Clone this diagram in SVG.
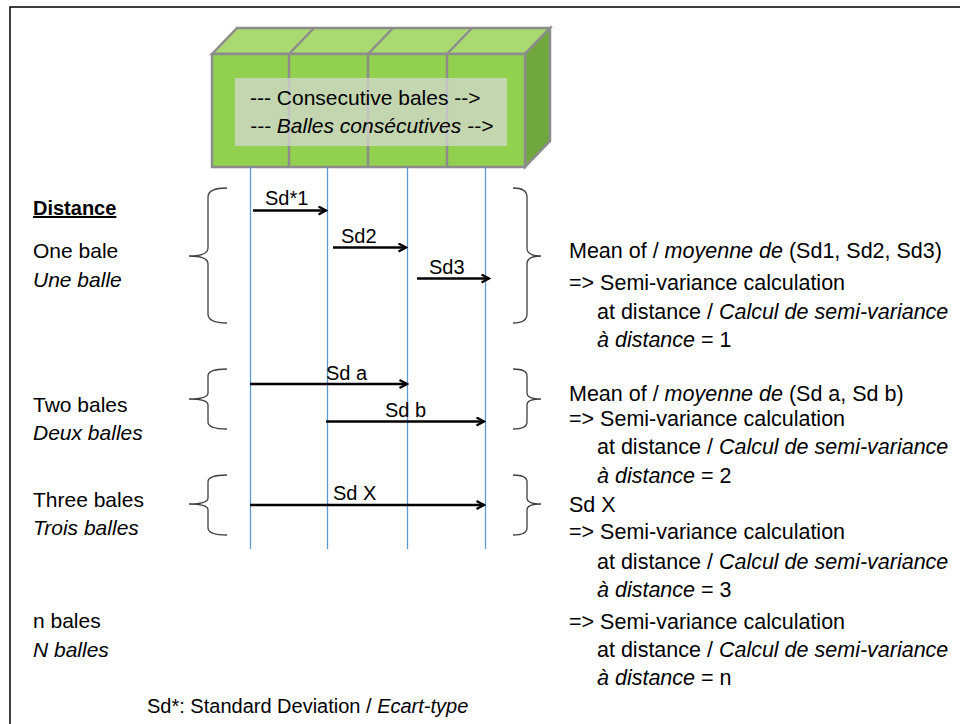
<svg xmlns="http://www.w3.org/2000/svg" width="960" height="724" viewBox="0 0 960 724">
<defs>
<style>
text{font-family:"Liberation Sans",Arial,sans-serif;fill:#000}
.t{font-size:21px}
.r{font-size:21.5px}
.s{font-size:20px}
.i{font-style:italic}
.vl{stroke:#5B9BD5;stroke-width:1.3}
.ar{stroke:#000;stroke-width:2.5;fill:none;marker-end:url(#ah)}
.br{stroke:#404040;stroke-width:1.3;fill:none}
.cube{stroke:#8C8C8C;stroke-width:2.5;stroke-linejoin:miter}
</style>
<marker id="ah" viewBox="0 0 10 10" refX="8.5" refY="5" markerWidth="10" markerHeight="10" markerUnits="userSpaceOnUse" orient="auto">
<path d="M1,1 L8.5,5 L1,9" fill="none" stroke="#000" stroke-width="2.3"/>
</marker>
</defs>
<rect width="960" height="724" fill="#fff"/>
<polyline points="10,724 10,7 960,7" fill="none" stroke="#000" stroke-width="1.5"/>

<g id="bales">
<polygon class="cube" points="212,54 237,28 550,28 525,54" fill="#A9D970"/>
<polygon class="cube" points="525,54 550,28 550,141 525,167" fill="#70A83E"/>
<rect class="cube" x="212" y="54" width="313" height="113" fill="#92D050"/>
<g class="cube" fill="none">
<line x1="289" y1="54" x2="289" y2="167"/>
<line x1="368" y1="54" x2="368" y2="167"/>
<line x1="447" y1="54" x2="447" y2="167"/>
<line x1="289" y1="54" x2="314" y2="28"/>
<line x1="368" y1="54" x2="393" y2="28"/>
<line x1="447" y1="54" x2="472" y2="28"/>
</g>
<rect x="235" y="78" width="272" height="68" fill="#D9D9D9" fill-opacity="0.7"/>
<text class="t" x="250" y="105">--- Consecutive bales --&gt;</text>
<text class="t i" x="250" y="133">--- Balles consécutives --&gt;</text>
</g>

<g id="connectors">
<line class="vl" x1="250.5" y1="167" x2="250.5" y2="549"/>
<line class="vl" x1="327.5" y1="167" x2="327.5" y2="549"/>
<line class="vl" x1="407.5" y1="167" x2="407.5" y2="549"/>
<line class="vl" x1="485.5" y1="167" x2="485.5" y2="549"/>
<line class="ar" x1="253" y1="210.5" x2="326" y2="210.5"/>
<line class="ar" x1="333" y1="247.5" x2="406" y2="247.5"/>
<line class="ar" x1="417" y1="278.5" x2="489" y2="278.5"/>
<line class="ar" x1="250" y1="384" x2="407" y2="384"/>
<line class="ar" x1="326" y1="421.5" x2="484" y2="421.5"/>
<line class="ar" x1="250" y1="505" x2="484" y2="505"/>
</g>

<g id="arrow-labels">
<text class="s" x="265" y="205">Sd*1</text>
<text class="s" x="341" y="243">Sd2</text>
<text class="s" x="429" y="274">Sd3</text>
<text class="s" x="326" y="380">Sd a</text>
<text class="s" x="385" y="417">Sd b</text>
<text class="s" x="333" y="500">Sd X</text>
</g>

<g id="braces">
<path class="br" d="M227,188 Q208,188 208,197 L208,248 Q208,256 189,256 Q208,256 208,264 L208,314 Q208,323 227,323"/>
<path class="br" d="M513,188 Q527,188 527,197 L527,248 Q527,256 541,256 Q527,256 527,264 L527,314 Q527,323 513,323"/>
<path class="br" d="M227,369 Q208,369 208,376 L208,393 Q208,399 189,399 Q208,399 208,405 L208,422 Q208,429 227,429"/>
<path class="br" d="M513,369 Q527,369 527,376 L527,393 Q527,399 541,399 Q527,399 527,405 L527,422 Q527,429 513,429"/>
<path class="br" d="M227,475 Q208,475 208,482 L208,498 Q208,504 189,504 Q208,504 208,510 L208,528 Q208,535 227,535"/>
<path class="br" d="M513,475 Q527,475 527,482 L527,498 Q527,504 541,504 Q527,504 527,510 L527,528 Q527,535 513,535"/>
</g>

<g id="left-labels">
<text class="s" x="33" y="215" font-weight="bold" text-decoration="underline">Distance</text>
<text class="t" x="33" y="258">One bale</text>
<text class="t i" x="33" y="287">Une balle</text>
<text class="t" x="33" y="412">Two bales</text>
<text class="t i" x="33" y="440">Deux balles</text>
<text class="t" x="33" y="507">Three bales</text>
<text class="t i" x="33" y="535">Trois balles</text>
<text class="t" x="33" y="628">n bales</text>
<text class="t i" x="33" y="657">N balles</text>
</g>

<g id="right-1">
<text class="r" x="569" y="258">Mean of / <tspan class="i">moyenne de</tspan> (Sd1, Sd2, Sd3)</text>
<text class="r" x="569" y="290">=&gt; Semi-variance calculation</text>
<text class="r" x="597" y="319">at distance / <tspan class="i">Calcul de semi-variance</tspan></text>
<text class="r" x="597" y="347"><tspan class="i">à distance</tspan> = 1</text>
</g>
<g id="right-2">
<text class="r" x="569" y="401">Mean of / <tspan class="i">moyenne de</tspan> (Sd a, Sd b)</text>
<text class="r" x="569" y="426">=&gt; Semi-variance calculation</text>
<text class="r" x="597" y="454">at distance / <tspan class="i">Calcul de semi-variance</tspan></text>
<text class="r" x="597" y="483"><tspan class="i">à distance</tspan> = 2</text>
</g>
<g id="right-3">
<text class="r" x="569" y="512">Sd X</text>
<text class="r" x="569" y="539">=&gt; Semi-variance calculation</text>
<text class="r" x="597" y="569">at distance / <tspan class="i">Calcul de semi-variance</tspan></text>
<text class="r" x="597" y="597"><tspan class="i">à distance</tspan> = 3</text>
</g>
<g id="right-n">
<text class="r" x="569" y="629">=&gt; Semi-variance calculation</text>
<text class="r" x="597" y="657">at distance / <tspan class="i">Calcul de semi-variance</tspan></text>
<text class="r" x="597" y="685"><tspan class="i">à distance</tspan> = n</text>
</g>
<g id="footnote">
<text class="s" x="147" y="713">Sd*: Standard Deviation / <tspan class="i">Ecart-type</tspan></text>
</g>
</svg>
